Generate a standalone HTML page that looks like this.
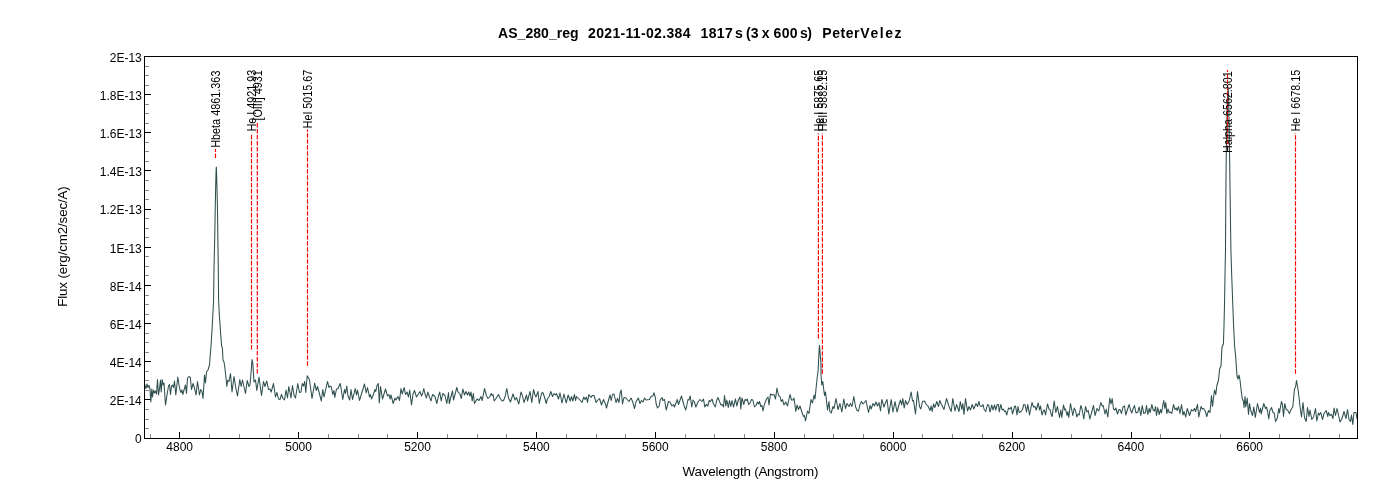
<!DOCTYPE html>
<html lang="en"><head><meta charset="utf-8"><title>AS_280_reg spectrum</title>
<style>
html,body{margin:0;padding:0;background:#fff;}
body{width:1400px;height:500px;overflow:hidden;}
svg{display:block;}
text{font-family:"Liberation Sans",sans-serif;fill:#000;}
.t{font-size:12.5px;}
.ttl{font-size:14px;font-weight:bold;}
.lab{font-size:13px;}
.lab2{font-size:13.4px;}
</style></head><body>
<svg width="1400" height="500" viewBox="0 0 1400 500">
<rect x="0" y="0" width="1400" height="500" fill="#fff"/>
<defs><clipPath id="pc"><rect x="145" y="57" width="1212" height="381"/></clipPath></defs>
<text class="ttl" y="37.8"><tspan x="498.0" textLength="80.6" lengthAdjust="spacing">AS_280_reg</tspan> <tspan x="588.0" textLength="102.5" lengthAdjust="spacing">2021-11-02.384</tspan> <tspan x="700.6" textLength="32.2" lengthAdjust="spacing">1817</tspan> <tspan x="735.0" textLength="7.0" lengthAdjust="spacing">s</tspan> <tspan x="746.0" textLength="12.5" lengthAdjust="spacing">(3</tspan> <tspan x="761.8" textLength="7.7" lengthAdjust="spacing">x</tspan> <tspan x="773.6" textLength="23.9" lengthAdjust="spacing">600</tspan> <tspan x="800.0" textLength="12.0" lengthAdjust="spacing">s)</tspan> <tspan x="822.3" textLength="37.2" lengthAdjust="spacing">Peter</tspan> <tspan x="860.3" textLength="41.2" lengthAdjust="spacing">Velez</tspan></text>
<g stroke="#888888" stroke-width="1" shape-rendering="crispEdges">
<line x1="145" y1="428.5" x2="149" y2="428.5"/>
<line x1="145" y1="419.5" x2="149" y2="419.5"/>
<line x1="145" y1="409.5" x2="149" y2="409.5"/>
<line x1="145" y1="390.5" x2="149" y2="390.5"/>
<line x1="145" y1="380.5" x2="149" y2="380.5"/>
<line x1="145" y1="371.5" x2="149" y2="371.5"/>
<line x1="145" y1="352.5" x2="149" y2="352.5"/>
<line x1="145" y1="342.5" x2="149" y2="342.5"/>
<line x1="145" y1="333.5" x2="149" y2="333.5"/>
<line x1="145" y1="314.5" x2="149" y2="314.5"/>
<line x1="145" y1="304.5" x2="149" y2="304.5"/>
<line x1="145" y1="295.5" x2="149" y2="295.5"/>
<line x1="145" y1="275.5" x2="149" y2="275.5"/>
<line x1="145" y1="266.5" x2="149" y2="266.5"/>
<line x1="145" y1="256.5" x2="149" y2="256.5"/>
<line x1="145" y1="237.5" x2="149" y2="237.5"/>
<line x1="145" y1="228.5" x2="149" y2="228.5"/>
<line x1="145" y1="218.5" x2="149" y2="218.5"/>
<line x1="145" y1="199.5" x2="149" y2="199.5"/>
<line x1="145" y1="190.5" x2="149" y2="190.5"/>
<line x1="145" y1="180.5" x2="149" y2="180.5"/>
<line x1="145" y1="161.5" x2="149" y2="161.5"/>
<line x1="145" y1="151.5" x2="149" y2="151.5"/>
<line x1="145" y1="142.5" x2="149" y2="142.5"/>
<line x1="145" y1="123.5" x2="149" y2="123.5"/>
<line x1="145" y1="113.5" x2="149" y2="113.5"/>
<line x1="145" y1="104.5" x2="149" y2="104.5"/>
<line x1="145" y1="85.5" x2="149" y2="85.5"/>
<line x1="145" y1="75.5" x2="149" y2="75.5"/>
<line x1="145" y1="66.5" x2="149" y2="66.5"/>
<line x1="150.5" y1="434" x2="150.5" y2="438"/>
<line x1="209.5" y1="434" x2="209.5" y2="438"/>
<line x1="239.5" y1="434" x2="239.5" y2="438"/>
<line x1="269.5" y1="434" x2="269.5" y2="438"/>
<line x1="328.5" y1="434" x2="328.5" y2="438"/>
<line x1="358.5" y1="434" x2="358.5" y2="438"/>
<line x1="387.5" y1="434" x2="387.5" y2="438"/>
<line x1="447.5" y1="434" x2="447.5" y2="438"/>
<line x1="477.5" y1="434" x2="477.5" y2="438"/>
<line x1="506.5" y1="434" x2="506.5" y2="438"/>
<line x1="566.5" y1="434" x2="566.5" y2="438"/>
<line x1="596.5" y1="434" x2="596.5" y2="438"/>
<line x1="625.5" y1="434" x2="625.5" y2="438"/>
<line x1="685.5" y1="434" x2="685.5" y2="438"/>
<line x1="714.5" y1="434" x2="714.5" y2="438"/>
<line x1="744.5" y1="434" x2="744.5" y2="438"/>
<line x1="804.5" y1="434" x2="804.5" y2="438"/>
<line x1="833.5" y1="434" x2="833.5" y2="438"/>
<line x1="863.5" y1="434" x2="863.5" y2="438"/>
<line x1="922.5" y1="434" x2="922.5" y2="438"/>
<line x1="952.5" y1="434" x2="952.5" y2="438"/>
<line x1="982.5" y1="434" x2="982.5" y2="438"/>
<line x1="1041.5" y1="434" x2="1041.5" y2="438"/>
<line x1="1071.5" y1="434" x2="1071.5" y2="438"/>
<line x1="1101.5" y1="434" x2="1101.5" y2="438"/>
<line x1="1160.5" y1="434" x2="1160.5" y2="438"/>
<line x1="1190.5" y1="434" x2="1190.5" y2="438"/>
<line x1="1220.5" y1="434" x2="1220.5" y2="438"/>
<line x1="1279.5" y1="434" x2="1279.5" y2="438"/>
<line x1="1309.5" y1="434" x2="1309.5" y2="438"/>
<line x1="1339.5" y1="434" x2="1339.5" y2="438"/>
</g>
<g stroke="#000" stroke-width="1" shape-rendering="crispEdges">
<line x1="145" y1="438.5" x2="151" y2="438.5"/>
<line x1="145" y1="399.5" x2="151" y2="399.5"/>
<line x1="145" y1="361.5" x2="151" y2="361.5"/>
<line x1="145" y1="323.5" x2="151" y2="323.5"/>
<line x1="145" y1="285.5" x2="151" y2="285.5"/>
<line x1="145" y1="247.5" x2="151" y2="247.5"/>
<line x1="145" y1="209.5" x2="151" y2="209.5"/>
<line x1="145" y1="170.5" x2="151" y2="170.5"/>
<line x1="145" y1="132.5" x2="151" y2="132.5"/>
<line x1="145" y1="94.5" x2="151" y2="94.5"/>
<line x1="145" y1="56.5" x2="151" y2="56.5"/>
<line x1="179.5" y1="432" x2="179.5" y2="438"/>
<line x1="298.5" y1="432" x2="298.5" y2="438"/>
<line x1="417.5" y1="432" x2="417.5" y2="438"/>
<line x1="536.5" y1="432" x2="536.5" y2="438"/>
<line x1="655.5" y1="432" x2="655.5" y2="438"/>
<line x1="774.5" y1="432" x2="774.5" y2="438"/>
<line x1="893.5" y1="432" x2="893.5" y2="438"/>
<line x1="1012.5" y1="432" x2="1012.5" y2="438"/>
<line x1="1131.5" y1="432" x2="1131.5" y2="438"/>
<line x1="1249.5" y1="432" x2="1249.5" y2="438"/>
</g>
<g class="t" text-anchor="end">
<text transform="translate(141.8,443.4) scale(0.96,1)">0</text>
<text transform="translate(141.8,405.2) scale(0.96,1)">2E-14</text>
<text transform="translate(141.8,367.1) scale(0.96,1)">4E-14</text>
<text transform="translate(141.8,328.9) scale(0.96,1)">6E-14</text>
<text transform="translate(141.8,290.8) scale(0.96,1)">8E-14</text>
<text transform="translate(141.8,252.6) scale(0.96,1)">1E-13</text>
<text transform="translate(141.8,214.4) scale(0.96,1)">1.2E-13</text>
<text transform="translate(141.8,176.3) scale(0.96,1)">1.4E-13</text>
<text transform="translate(141.8,138.1) scale(0.96,1)">1.6E-13</text>
<text transform="translate(141.8,100.0) scale(0.96,1)">1.8E-13</text>
<text transform="translate(141.8,61.8) scale(0.96,1)">2E-13</text>
</g>
<g class="t" text-anchor="middle">
<text transform="translate(179.7,451) scale(0.96,1)">4800</text>
<text transform="translate(298.6,451) scale(0.96,1)">5000</text>
<text transform="translate(417.5,451) scale(0.96,1)">5200</text>
<text transform="translate(536.4,451) scale(0.96,1)">5400</text>
<text transform="translate(655.3,451) scale(0.96,1)">5600</text>
<text transform="translate(774.1,451) scale(0.96,1)">5800</text>
<text transform="translate(893.0,451) scale(0.96,1)">6000</text>
<text transform="translate(1011.9,451) scale(0.96,1)">6200</text>
<text transform="translate(1130.8,451) scale(0.96,1)">6400</text>
<text transform="translate(1249.7,451) scale(0.96,1)">6600</text>
</g>
<text class="lab2" x="682.6" y="475.7" textLength="135.8" lengthAdjust="spacing">Wavelength (Angstrom)</text>
<text class="lab2" transform="translate(66.9,306.8) rotate(-90)" textLength="120.6" lengthAdjust="spacing">Flux (erg/cm2/sec/A)</text>
<polyline clip-path="url(#pc)" fill="none" stroke="#2F4F4F" stroke-width="1.05" stroke-linejoin="round" points="144.5,384.0 146.0,388.5 147.0,384.0 148.0,387.5 149.0,385.5 150.0,389.0 150.8,402.0 151.8,389.0 152.5,397.0 153.5,390.0 154.5,393.0 155.5,391.0 156.5,394.0 157.5,379.5 158.5,395.0 159.5,389.0 160.5,380.0 161.2,392.0 162.2,379.5 163.2,385.0 164.0,383.0 165.5,405.0 167.0,395.0 168.5,386.0 169.5,384.5 170.5,394.5 171.5,386.0 172.5,385.0 173.5,387.5 174.5,381.0 175.8,395.0 177.8,377.0 179.0,385.0 180.0,390.0 181.0,392.5 182.0,390.0 182.8,394.5 184.0,390.0 185.5,385.0 186.5,393.5 187.5,378.0 189.0,376.5 190.3,377.5 191.5,389.5 193.0,383.5 194.5,388.0 196.0,395.0 197.5,381.5 199.5,395.0 200.7,389.5 202.0,391.5 203.0,398.5 204.5,375.0 205.5,383.0 206.5,372.0 208.0,370.0 209.5,365.0 210.0,358.0 211.0,346.0 212.0,330.0 213.0,312.0 213.6,300.0 213.9,275.0 214.2,260.0 214.8,235.0 215.2,210.0 215.7,185.0 216.1,170.0 216.3,167.0 216.5,170.0 216.9,185.0 217.5,210.0 217.8,235.0 218.2,260.0 218.4,280.0 218.6,300.0 219.4,316.0 220.4,330.0 221.6,346.0 222.4,348.0 223.0,360.0 224.0,362.0 224.5,365.0 225.5,373.0 226.8,386.5 227.8,380.0 229.0,381.5 230.5,373.5 232.0,392.0 234.0,376.5 236.0,389.0 237.5,396.0 239.8,379.5 241.2,386.5 242.5,380.0 245.5,393.5 247.2,380.5 249.0,386.5 250.0,385.0 251.2,371.0 252.0,359.5 252.8,363.0 254.0,382.0 255.5,380.0 256.8,390.5 259.0,377.0 261.5,395.5 263.5,381.5 265.0,386.5 266.8,381.0 268.5,389.5 270.0,389.0 271.2,392.0 273.5,383.5 275.5,397.0 277.0,392.5 278.5,399.0 280.0,399.5 281.5,394.5 283.0,398.5 284.5,400.0 286.0,390.0 287.5,398.0 288.8,386.5 290.0,392.5 291.0,398.0 292.5,385.5 294.0,395.0 295.5,398.0 297.8,383.5 299.5,392.5 301.0,392.0 302.2,383.5 303.5,386.0 304.7,381.5 305.8,392.5 307.2,375.8 308.5,378.0 309.5,380.0 312.0,398.5 314.7,383.0 316.2,390.5 317.5,386.5 319.5,394.0 321.3,401.0 322.8,389.5 324.0,397.0 327.5,381.5 329.0,387.5 330.0,386.0 331.2,386.5 332.8,394.5 334.0,390.5 334.8,397.5 336.5,389.0 338.0,388.5 340.3,383.5 342.8,399.5 344.5,389.5 345.5,393.5 346.8,386.0 348.0,396.0 349.7,400.0 351.0,389.5 352.5,399.5 353.8,394.5 355.2,388.5 356.5,395.0 357.5,390.0 359.5,400.5 361.0,395.5 364.5,384.0 366.2,393.0 367.5,387.5 369.5,397.0 370.5,394.5 371.5,399.0 373.0,395.5 375.0,389.5 375.8,391.5 377.0,385.5 378.3,383.5 379.3,403.0 380.5,386.5 382.5,399.0 385.5,389.0 387.5,396.0 389.0,394.5 390.0,399.0 391.0,395.0 393.2,403.5 395.0,398.0 396.0,400.0 398.0,396.5 399.5,400.5 401.0,388.5 402.2,394.0 404.2,387.5 405.5,394.5 407.0,392.0 408.5,397.0 409.7,390.0 411.5,405.0 413.0,394.0 414.5,390.5 416.5,397.0 418.5,394.0 420.0,391.5 421.5,396.0 422.5,394.0 423.8,388.5 425.0,394.0 426.5,398.0 427.8,392.0 429.5,397.0 431.0,401.0 432.5,394.5 435.0,396.5 436.8,403.5 438.5,396.0 439.8,392.0 441.2,401.0 442.8,393.5 445.0,395.5 446.8,403.5 448.5,392.5 449.3,403.5 450.8,397.5 452.5,391.0 453.5,400.0 455.0,394.5 456.8,387.5 458.0,392.0 460.0,394.0 461.3,398.5 462.8,389.0 464.5,395.0 466.0,391.5 467.5,395.0 468.7,392.0 470.0,396.0 471.0,392.0 472.2,401.0 473.3,393.5 474.5,403.5 477.0,399.0 479.0,400.5 481.0,396.5 482.2,400.5 484.5,388.5 486.5,396.0 488.0,398.5 489.5,397.0 491.2,393.5 492.2,395.5 493.0,394.5 494.2,401.0 496.0,398.5 498.5,394.5 500.0,398.0 502.0,401.0 503.5,400.5 505.0,397.0 506.8,388.5 508.5,398.0 510.5,402.0 513.0,394.0 515.0,400.0 516.5,397.5 518.8,404.0 521.0,392.0 522.5,396.0 524.0,402.5 526.5,395.0 527.5,401.0 530.0,391.5 531.8,402.5 533.5,389.5 535.0,395.0 536.0,397.0 538.0,391.5 539.3,403.5 541.5,393.5 542.8,392.5 544.5,397.0 546.2,403.5 547.5,398.5 549.0,397.0 550.8,391.5 552.5,396.5 554.0,393.5 555.5,395.0 556.5,393.5 558.5,399.0 560.0,393.0 562.0,403.0 564.0,394.0 566.2,403.0 568.2,395.0 570.2,401.0 571.5,396.5 572.8,401.0 574.5,394.5 575.5,400.5 576.5,396.5 579.5,399.5 582.0,402.5 583.8,397.0 585.0,399.5 586.5,397.0 587.5,402.5 588.8,394.5 591.0,397.5 592.2,395.5 594.0,395.5 596.2,402.5 597.5,400.5 599.5,398.5 601.5,405.0 603.5,399.5 605.5,404.0 606.5,408.0 608.0,402.0 610.0,395.0 611.2,400.5 612.5,394.5 614.0,394.0 616.0,402.5 617.5,398.5 619.0,402.5 620.0,393.5 621.2,390.0 622.5,404.0 624.0,397.5 626.0,398.0 627.5,400.0 629.0,401.5 631.0,398.0 632.8,402.0 634.5,408.5 636.0,402.0 638.3,398.0 640.0,403.5 641.5,400.5 643.0,402.0 644.5,398.0 646.0,400.0 649.5,399.5 651.0,396.5 652.8,396.0 654.0,392.8 655.2,397.0 656.2,404.0 657.5,408.0 659.2,406.0 660.2,400.0 662.0,397.5 663.0,400.5 664.5,399.5 666.2,410.0 668.5,401.5 670.0,402.0 672.0,406.0 673.5,404.5 674.5,407.0 677.2,399.5 678.5,404.5 681.5,396.0 684.0,405.5 685.8,410.0 688.0,399.5 689.0,400.0 690.2,396.0 691.8,407.0 693.0,400.0 694.5,402.0 695.8,407.0 698.0,402.0 700.0,399.5 702.0,401.5 703.5,399.0 704.8,407.0 706.2,404.5 707.8,406.0 709.2,400.5 710.5,401.5 712.0,399.0 713.5,404.0 715.3,407.0 716.8,400.0 718.0,397.5 719.5,401.5 721.0,405.0 722.2,404.5 723.5,407.0 724.5,395.5 725.8,406.0 726.8,400.0 728.3,407.5 729.5,400.5 730.8,406.5 732.0,400.5 733.5,407.0 735.5,399.0 736.8,406.0 738.2,400.5 740.0,397.0 740.8,409.0 742.0,398.0 743.8,404.5 745.0,399.5 746.2,400.5 747.2,399.0 748.7,404.5 750.0,403.0 751.5,399.5 752.8,400.0 754.5,407.0 756.0,405.5 757.5,402.0 758.5,404.0 759.5,401.5 760.8,406.5 762.0,405.5 763.0,411.0 764.5,404.0 766.5,399.0 768.0,397.0 769.0,405.0 770.5,394.0 772.0,395.0 774.0,394.5 775.5,399.0 777.0,388.0 778.5,395.5 780.0,396.5 781.2,401.5 782.5,399.5 784.0,405.0 785.8,402.0 787.5,406.0 790.0,394.5 791.5,400.0 793.0,400.0 794.0,398.0 795.8,411.5 797.0,405.0 798.5,409.5 800.0,406.0 802.0,412.5 803.5,416.5 804.5,415.5 805.5,421.0 807.5,411.0 809.0,413.5 811.0,399.5 812.5,403.0 814.0,395.0 815.0,399.0 816.5,384.0 817.5,375.0 818.0,372.0 818.5,362.0 819.0,352.0 819.4,345.4 819.9,350.0 820.5,358.0 821.0,364.0 821.0,375.0 821.8,385.0 822.8,381.5 824.5,395.5 825.5,392.0 827.5,410.0 829.0,401.5 829.8,411.5 831.2,413.0 833.0,406.5 834.0,408.5 836.0,398.5 838.0,409.5 840.0,403.5 841.8,412.0 843.8,399.0 845.5,408.5 847.0,403.5 849.0,406.5 850.5,403.5 852.0,406.5 853.8,396.5 855.5,406.5 857.0,410.5 858.5,411.0 860.0,404.5 861.5,401.5 863.0,404.0 864.5,402.5 866.0,400.5 868.5,412.5 870.0,405.5 871.2,409.0 873.0,403.5 874.5,406.0 876.0,402.0 877.5,406.0 879.0,402.5 880.5,411.0 881.8,399.5 884.0,407.0 885.2,403.5 887.0,399.5 888.8,414.0 891.2,399.5 893.0,412.0 895.0,401.5 897.0,412.0 899.0,404.5 900.5,400.0 901.7,405.0 902.8,398.5 904.2,408.0 905.5,400.5 907.2,404.5 909.0,401.5 911.2,392.0 912.5,401.0 913.5,400.5 915.5,414.0 917.5,391.5 919.5,406.5 920.8,409.0 922.5,401.5 924.5,401.0 926.0,404.0 928.0,406.0 930.0,410.5 931.2,406.0 932.2,411.5 933.5,404.0 934.8,407.5 936.8,401.5 938.5,406.5 939.8,400.5 941.2,404.0 944.0,409.5 946.5,398.5 949.0,406.5 951.2,411.5 952.8,398.5 955.0,411.0 956.5,404.5 959.0,411.5 960.3,401.5 961.8,409.5 962.8,403.5 964.0,414.5 965.5,398.5 967.5,411.0 969.0,406.5 970.5,410.0 972.2,404.5 973.8,409.0 976.0,403.5 977.5,406.5 979.0,401.5 980.0,406.0 981.8,406.5 983.0,404.5 984.2,409.5 985.8,411.5 987.5,404.5 988.8,405.5 990.0,412.0 991.8,405.0 993.0,410.0 994.5,405.0 995.8,410.0 997.2,404.5 998.5,404.5 999.2,412.0 1000.8,404.5 1002.2,410.0 1003.2,409.0 1004.5,411.5 1005.5,411.0 1006.8,415.0 1008.5,408.0 1010.0,409.0 1011.2,407.0 1012.5,414.0 1014.5,406.5 1015.5,406.0 1017.0,415.0 1018.0,406.5 1019.2,412.5 1021.0,411.5 1022.5,409.5 1023.8,404.5 1025.2,405.0 1026.5,412.0 1027.8,404.5 1029.5,415.0 1032.0,402.5 1033.5,407.0 1035.0,406.5 1036.2,410.0 1038.2,403.0 1039.5,410.0 1040.5,406.0 1042.0,415.0 1043.5,410.5 1044.5,410.0 1045.5,415.0 1047.5,404.0 1049.0,409.0 1050.2,410.0 1051.2,414.5 1052.2,416.5 1054.2,401.0 1055.8,412.5 1057.5,406.5 1059.5,417.5 1060.8,410.0 1061.8,417.5 1063.5,405.0 1064.8,410.0 1065.5,409.0 1067.0,415.5 1067.8,411.5 1068.8,417.5 1070.5,403.5 1072.8,415.5 1074.2,408.0 1075.5,410.5 1076.8,417.0 1078.0,414.0 1079.2,415.0 1080.8,405.5 1082.0,409.0 1083.8,419.0 1085.5,406.5 1087.0,412.0 1088.2,410.5 1089.8,419.0 1093.5,405.5 1095.0,415.5 1097.0,408.5 1098.8,411.0 1100.8,402.5 1102.2,406.0 1103.2,405.5 1105.0,414.0 1106.2,409.0 1107.8,417.0 1109.8,398.0 1111.0,404.0 1112.2,398.5 1113.5,409.0 1114.8,410.0 1115.8,408.0 1117.5,414.0 1119.0,409.5 1120.0,409.5 1121.5,413.5 1123.0,407.0 1124.5,406.0 1125.8,415.0 1127.5,409.5 1129.2,404.5 1130.5,410.0 1131.8,413.0 1133.0,409.0 1134.5,405.5 1136.0,413.0 1137.8,412.0 1139.2,407.0 1140.8,415.5 1142.2,405.5 1143.8,413.5 1145.5,412.5 1146.5,405.5 1147.8,414.5 1149.2,408.5 1150.2,412.5 1151.8,404.5 1153.2,410.0 1154.5,411.0 1155.5,406.5 1156.5,415.5 1157.8,407.5 1159.2,414.5 1160.5,409.5 1161.5,413.0 1162.8,405.0 1163.8,400.5 1164.8,408.5 1165.8,402.5 1166.8,413.5 1168.0,409.0 1169.2,412.5 1170.5,412.0 1171.8,413.5 1173.5,404.5 1175.0,409.5 1176.2,408.0 1177.2,410.5 1178.5,406.5 1180.0,413.5 1181.5,404.5 1183.0,415.0 1184.0,411.5 1185.8,417.0 1187.2,408.5 1189.5,415.5 1191.5,409.5 1193.0,411.0 1194.5,408.5 1195.5,411.5 1197.5,404.5 1198.8,417.0 1201.0,406.5 1202.2,409.0 1203.5,408.5 1205.2,411.0 1206.8,416.5 1208.5,410.5 1210.0,412.5 1211.5,395.5 1212.5,406.5 1214.5,390.0 1215.8,394.5 1216.8,386.0 1218.5,380.0 1219.6,369.0 1221.0,366.0 1222.0,347.0 1223.4,344.0 1224.0,326.0 1224.6,300.0 1225.0,275.0 1225.5,250.0 1225.8,200.0 1226.3,150.0 1226.9,120.0 1227.5,100.0 1228.0,90.0 1228.2,88.0 1228.4,90.0 1228.7,100.0 1229.0,120.0 1229.5,150.0 1230.2,200.0 1230.9,250.0 1231.7,275.0 1232.6,300.0 1233.6,326.0 1234.6,346.0 1235.6,356.0 1237.0,376.0 1238.0,379.0 1239.0,375.0 1240.0,380.0 1241.0,389.0 1242.2,398.5 1243.5,401.5 1244.0,407.5 1245.0,396.5 1245.8,407.0 1247.2,398.0 1248.5,414.5 1249.5,403.5 1250.8,410.5 1252.5,415.5 1253.8,407.0 1255.3,417.5 1257.5,403.5 1259.5,412.5 1260.5,408.0 1261.2,414.0 1263.8,403.5 1265.5,408.5 1266.5,407.0 1267.5,411.0 1268.8,419.0 1269.8,410.5 1271.5,407.5 1273.0,412.5 1274.2,413.0 1275.5,421.5 1277.2,418.5 1278.8,408.5 1279.5,413.0 1280.8,405.0 1281.5,401.5 1282.5,405.0 1283.5,416.5 1284.7,403.5 1286.2,409.5 1287.5,410.0 1289.5,413.5 1291.5,408.5 1292.8,407.0 1294.5,388.5 1295.5,387.5 1296.5,380.5 1297.8,388.0 1299.0,397.0 1300.0,406.5 1301.5,417.0 1303.0,402.5 1304.5,417.5 1306.2,421.5 1307.5,407.5 1309.0,416.5 1310.0,410.0 1311.8,419.5 1313.5,417.0 1315.5,408.5 1316.8,421.0 1318.5,413.0 1319.5,415.0 1320.8,412.5 1322.5,419.5 1324.0,413.5 1326.2,410.5 1327.8,416.5 1328.5,412.5 1330.0,415.5 1331.5,414.5 1333.0,418.5 1334.0,408.0 1335.5,415.5 1337.0,408.5 1338.5,415.0 1340.0,422.0 1342.0,418.5 1344.0,411.5 1346.0,418.5 1347.5,409.5 1349.0,419.5 1350.5,421.5 1351.5,415.0 1352.8,424.5 1354.0,412.5 1356.0,412.5 1357.0,419.0"/>
<g stroke="#FF0000" stroke-width="1.15" stroke-dasharray="4.5 1.5" fill="none">
<line x1="215.5" y1="158" x2="215.5" y2="149"/>
<line x1="251.5" y1="349.5" x2="251.5" y2="133.2"/>
<line x1="257.3" y1="373.5" x2="257.3" y2="122"/>
<line x1="307.5" y1="365.8" x2="307.5" y2="129.5"/>
<line x1="818.4" y1="338.4" x2="818.4" y2="133.2"/>
<line x1="822.4" y1="373.8" x2="822.4" y2="133.2"/>
<line x1="1227.5" y1="150" x2="1227.5" y2="70"/>
<line x1="1295.5" y1="373.8" x2="1295.5" y2="133.2"/>
</g>
<g class="lab">
<text transform="translate(220.0,147.8) rotate(-90) scale(0.835,1)">Hbeta 4861.363</text>
<text transform="translate(256.0,131.6) rotate(-90) scale(0.83,1)">He I 4921.93</text>
<text transform="translate(261.8,120.6) rotate(-90) scale(0.83,1)">[OIII] 4931</text>
<text transform="translate(312.0,128.4) rotate(-90) scale(0.83,1)">HeI 5015.67</text>
<text transform="translate(822.9,131.5) rotate(-90) scale(0.83,1)">He I 5875.65</text>
<text transform="translate(826.9,131.5) rotate(-90) scale(0.83,1)">HeII 5882.15</text>
<text transform="translate(1232.0,152.95) rotate(-90) scale(0.8245,1)">Halpha 6562.801</text>
<text transform="translate(1300.0,131.5) rotate(-90) scale(0.83,1)">He I 6678.15</text>
</g>
<rect x="144.5" y="56.5" width="1213" height="382" fill="none" stroke="#000" stroke-width="1" shape-rendering="crispEdges"/>
</svg></body></html>
